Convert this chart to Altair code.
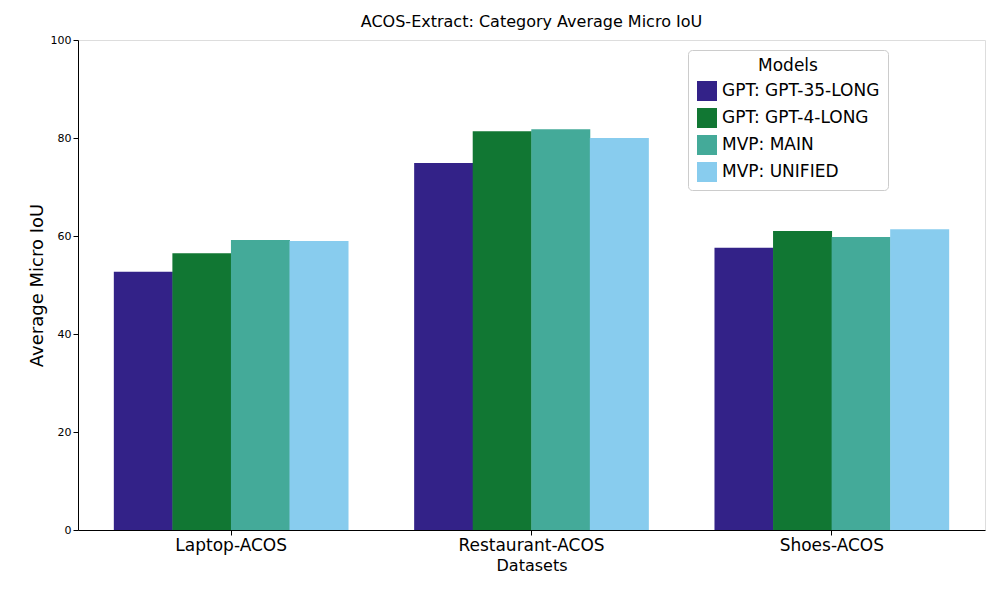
import altair as alt
import pandas as pd

datasets = ["Laptop-ACOS", "Restaurant-ACOS", "Shoes-ACOS"]
models = ["GPT: GPT-35-LONG", "GPT: GPT-4-LONG", "MVP: MAIN", "MVP: UNIFIED"]
colors = ["#332288", "#117733", "#44AA99", "#88CCEE"]
gpt35 = [52.7, 74.9, 57.6]
gpt4 = [56.5, 81.4, 61.0]
mvp_main = [59.2, 81.8, 59.8]
mvp_unified = [59.0, 80.0, 61.4]

rows = []
for m, vals in zip(models, [gpt35, gpt4, mvp_main, mvp_unified]):
    for d, v in zip(datasets, vals):
        rows.append({"dataset": d, "model": m, "iou": v})
df = pd.DataFrame(rows)

chart = (
    alt.Chart(df)
    .mark_bar(size=59)
    .encode(
        x=alt.X("dataset:N", sort=datasets, title="Datasets",
                scale=alt.Scale(paddingInner=0.22, paddingOuter=0.12),
                axis=alt.Axis(labelAngle=0, labelFontSize=17, titleFontSize=16,
                              titleFontWeight="normal", labelColor="black",
                              titleColor="black", domainColor="black", tickColor="black")),
        xOffset=alt.XOffset("model:N", sort=models),
        y=alt.Y("iou:Q", title="Average Micro IoU", scale=alt.Scale(domain=[0, 100]),
                axis=alt.Axis(values=[0, 20, 40, 60, 80, 100], grid=False, labelFontSize=11,
                              titleFontSize=18, titleFontWeight="normal", labelColor="black",
                              titleColor="black", domainColor="black", tickColor="black")),
        color=alt.Color("model:N", sort=models, scale=alt.Scale(domain=models, range=colors),
                        legend=alt.Legend(title="Models", orient="none", legendX=610, legendY=10,
                                          titleFontSize=17, titleFontWeight="normal",
                                          labelFontSize=17, symbolType="square", symbolSize=400,
                                          titleAnchor="middle", strokeColor="#cccccc",
                                          fillColor="white", padding=8, cornerRadius=4,
                                          labelColor="black", titleColor="black", rowPadding=6)),
    )
    .properties(
        width=907, height=490,
        title=alt.TitleParams("ACOS-Extract: Category Average Micro IoU", fontSize=16,
                              fontWeight="normal", color="black"),
        autosize="none",
        padding={"left": 70, "top": 32, "right": 7, "bottom": 62},
    )
    .configure_view(stroke="black")
    .configure(font="DejaVu Sans")
)

chart.save("out.html", embed_options={"renderer": "svg", "actions": False})
